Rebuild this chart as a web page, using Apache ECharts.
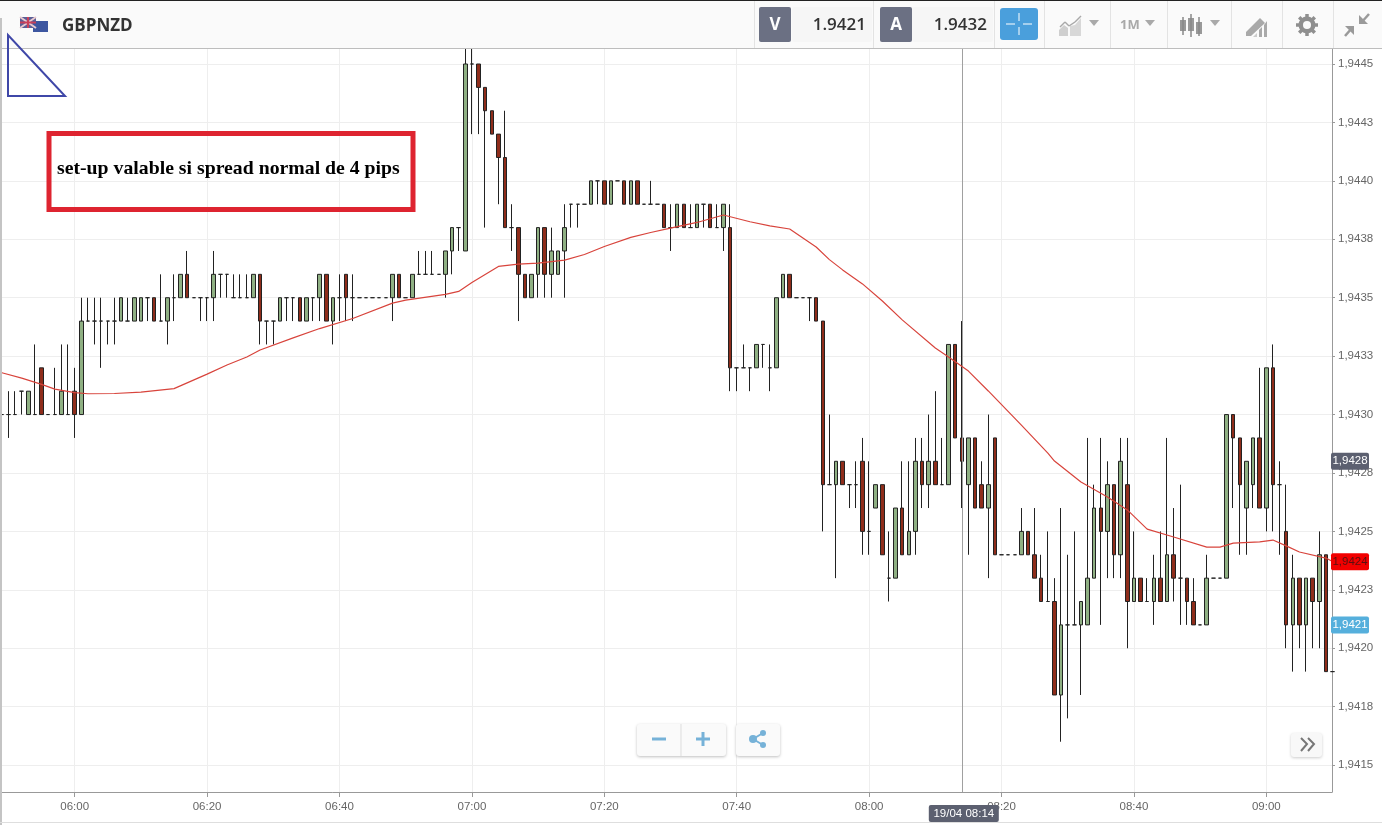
<!DOCTYPE html>
<html><head><meta charset="utf-8"><title>GBPNZD</title>
<style>html,body{margin:0;padding:0;background:#fff;overflow:hidden}#c{width:1382px;height:825px}</style>
<script src="https://cdn.jsdelivr.net/npm/echarts@6/dist/echarts.min.js"></script>
</head><body><div id="c"></div>
<script>
// Candles: one per minute, first at 05:49. Values are pips above 1.9400.
const firstMinute = 349;
const open = [
30,30,30,31,30,30,32,30,30,30, 30,31,30,34,34,34,34,34,34,34,
34,34,35,35,34,34,35,35,36,35, 35,35,35,36,36,35,35,35,35,36,
34,34,34,35,35,35,34,35,35,36, 34,35,36,35,35,35,35,35,35,35,
36,35,35,36,36,36,36,36,37,38, 37,45,45,44,43,42,41,38,38,36,
35,36,38,36,36,37,39,39,39,39, 40,40,39,40,40,39,40,39,39,39,
39,38,38,39,38,38,39,39,38,38, 38,32,32,32,32,33,32,32,35,36,
35,35,35,35,34,27,27,28,27,27, 28,25,26,27,23,23,26,24,25,28,
27,28,27,27,33,29,27,29,27,26, 29,24,24,24,24,25,24,23,22,22,
18,21,21,21,21,23,26,25,27,24, 27,22,23,22,22,23,22,24,23,23,
22,21,21,23,23,23,30,29,26,27, 29,26,32,27,25,21,23,21,23,22,
24,19];
const close = [
30,30,30,31,31,30,30,30,30,31, 30,30,34,34,34,34,34,34,35,34,
35,35,35,34,34,35,35,36,35,35, 35,35,36,36,36,35,35,35,36,34,
34,34,35,35,35,34,35,35,36,34, 35,35,35,35,35,35,35,35,35,36,
35,35,36,36,36,36,36,37,38,38, 45,45,44,43,42,41,38,38,36,35,
36,38,36,37,37,38,39,39,39,40, 40,39,40,40,39,40,39,39,39,39,
38,38,39,38,38,39,39,38,38,39, 32,32,32,32,33,33,32,35,36,35,
35,35,35,34,27,27,28,27,27,27, 25,25,27,24,23,26,24,25,28,27,
28,27,27,33,29,28,29,26,26,27, 24,24,24,24,25,24,23,22,22,18,
21,21,21,22,23,26,25,27,24,28, 22,23,22,22,23,22,24,23,23,22,
21,21,23,23,23,30,29,27,28,29, 26,32,27,27,21,23,21,23,22,24,
19,19];
const low = [
30,29,30,30,30,30,30,30,30,30, 30,29,30,34,33,32,33,33,34,34,
34,34,34,34,34,33,34,35,35,35, 34,34,34,35,35,35,35,35,35,33,
33,33,34,34,34,34,34,34,34,34, 33,34,34,34,35,35,35,35,35,34,
35,35,35,36,36,36,36,35,36,37, 37,42,42,38,42,39,38,37,34,35,
35,35,35,35,36,35,38,38,39,39, 39,39,39,40,39,39,39,39,39,39,
38,37,38,38,38,38,38,38,38,37, 31,31,32,31,32,32,31,32,35,35,
35,35,34,34,25,27,23,27,26,26, 24,24,26,24,22,23,24,24,24,26,
26,27,27,27,29,26,24,26,26,23, 24,24,24,24,24,24,23,22,22,18,
16,17,21,18,21,23,21,23,23,23, 20,22,22,22,21,22,22,22,21,21,
21,21,21,23,23,23,26,24,24,26, 26,25,25,24,20,19,20,19,20,20,
19,19];
const high = [
30,31,31,31,31,33,32,30,32,33, 33,32,35,35,35,35,34,35,35,35,
35,35,35,35,36,35,36,36,37,35, 35,35,37,36,36,36,36,36,36,36,
34,34,35,35,35,35,35,35,36,36, 35,36,36,36,35,35,35,35,35,36,
36,35,36,37,37,37,36,37,38,38, 46,46,45,44,43,42,43,39,38,36,
36,38,38,38,37,39,39,39,39,40, 40,40,40,40,40,40,40,39,40,39,
39,39,39,39,39,39,39,39,39,39, 39,32,33,32,33,33,33,35,36,36,
35,35,35,35,34,30,28,28,27,28, 29,28,27,27,25,26,28,28,29,29,
30,31,29,33,33,34,29,29,28,30, 29,24,24,24,26,25,26,24,25,23,
26,24,25,22,29,27,29,28,27,29, 29,25,23,23,24,25,29,26,27,23,
23,21,24,23,23,30,30,29,28,29, 32,32,33,28,27,24,23,23,23,25,
24,19];
// Moving average: minutes after 06:00, and pips above 1.9400.
const maMinutes = [-12,-11,-8,-5,-3,0,2,6,10,15,20,23,26,28,33,37,42,48,50,56,58,60,64,67,70,74,77,80,84,87,90,94,98,102,105,108,112,114,116,119,122,125,130,132,135,138,143,147,148,152,156,159,162,166,171,173,175,179,181,183,185,189,190];
const maPips = [31.86,31.79,31.56,31.29,31.09,30.94,30.89,30.90,30.96,31.11,31.73,32.12,32.46,32.76,33.28,33.68,34.11,34.77,34.90,35.14,35.27,35.65,36.34,36.44,36.48,36.61,36.85,37.19,37.58,37.79,37.98,38.22,38.54,38.25,38.07,37.94,37.17,36.63,36.19,35.59,34.86,34.05,32.85,32.46,31.86,31.01,29.55,28.35,28.01,27.11,26.47,25.92,25.10,24.76,24.33,24.33,24.50,24.55,24.63,24.38,24.12,23.86,23.71];
const xTickLabels = ["06:00","06:20","06:40","07:00","07:20","07:40","08:00","08:20","08:40","09:00"];
const yTickValues = [1.9445,1.94425,1.944,1.94375,1.9435,1.94325,1.943,1.94275,1.9425,1.94225,1.942,1.94175,1.9415];
const yTickLabels = ["1,9445","1,9443","1,9440","1,9438","1,9435","1,9433","1,9430","1,9428","1,9425","1,9423","1,9420","1,9418","1,9415"];
const crossMinute = 494, crossPrice = 1.94280, crossTime = "19/04 08:14", crossLabel = "1,9428";
const lastPrice = 1.94237, lastLabel = "1,9424", bidPrice = 1.94210, bidLabel = "1,9421";
const symbolName = "GBPNZD", bidQuote = "1.9421", askQuote = "1.9432", note = "set-up valable si spread normal de 4 pips";

const price = p => 1.94 + p / 10000;
const toMin = s => +s.slice(0,2) * 60 + +s.slice(3);
const candles = open.map((o,i) => [firstMinute + i, price(o), price(close[i]), price(low[i]), price(high[i])]);
const ma = maMinutes.map((m,i) => [360 + m, price(maPips[i])]);
const xMin = 348.716, xMax = 549.92, yMin = 1.9413849, yMax = 1.9445685;
const fmtX = v => { const h = Math.floor(v/60), m = Math.round(v-h*60); return String(h).padStart(2,'0')+':'+String(m).padStart(2,'0'); };
const fmtY = v => yTickLabels[Math.round((1.9445 - v)/0.00025)];

const flag = (x,y,w,h,fill) => ({type:'rect',shape:{x,y,width:w,height:h},style:{fill},silent:true,z:20});
const box = (x,y,w,h,fill,r,extra) => ({type:'rect',shape:{x,y,width:w,height:h,r:r||0},style:Object.assign({fill},extra||{}),silent:true,z:20});
const txt = (x,y,t,font,fill,align) => ({type:'text',x,y,style:{text:t,font,fill,textAlign:align||'left',textVerticalAlign:'middle'},silent:true,z:22});
const line = (x1,y1,x2,y2,stroke,w) => ({type:'line',shape:{x1,y1,x2,y2},style:{stroke,lineWidth:w||1},silent:true,z:21});
const tri = (x,y,fill) => ({type:'polygon',shape:{points:[[x,y],[x+10,y],[x+5,y+6]]},style:{fill},silent:true,z:21});
const poly = (pts,fill) => ({type:'polygon',shape:{points:pts},style:{fill},silent:true,z:21});
const G='#a9a9a9';

const chrome = [
  box(0,0,1382,48,'#fafafa'), box(0,0,1382,1,'#222'), box(0,48,1382,1,'#bdbdbd'),
  box(0,18,2,807,'#c4c4c4'), box(0,822,1382,1,'#dedede'),
  // flag
  flag(20,17,16,11,'#5a5f97'), line(20,17,36,28,'#e9c9cf',2), line(36,17,20,28,'#e9c9cf',2),
  line(28,17,28,28,'#c9405a',2), line(20,22.5,36,22.5,'#c9405a',2), flag(33,21,15,11,'#3d56a0'),
  txt(62,26,symbolName,'700 17px "Open Sans"','#333'),
  // separators
  ...[754,873,994,1044,1110,1167,1231,1282,1333].map(x=>line(x+.5,1,x+.5,48,'#e3e3e3')),
  box(792,7,80,35,'#f6f6f6',2), box(759,7,32,35,'#6b7083',2), txt(775,25,'V','700 17px "Open Sans"','#fff','center'), txt(866,25,bidQuote,'600 17px "Open Sans"','#333','right'),
  box(912,7,81,35,'#f6f6f6',2), box(880,7,32,35,'#6b7083',2), txt(896,25,'A','700 17px "Open Sans"','#fff','center'), txt(987,25,askQuote,'600 17px "Open Sans"','#333','right'),
  box(1000,8,38,32,'#4a9fdc',3), line(1019,13,1019,21,'#fff',1), line(1019,27,1019,35,'#fff',1), line(1006,24,1015,24,'#fff',1), line(1023,24,1032,24,'#fff',1),
  // chart-type icon
  poly([[1059,36],[1059,30],[1064,25],[1068,28],[1068,36]],'#cfcfcf'), poly([[1070,36],[1070,26],[1075,25],[1081,18],[1081,36]],'#d8d8d8'),
  line(1060,27,1065,22,G,1.5), line(1065,22,1069,26,G,1.5), line(1069,26,1075,22,G,1.5), line(1075,22,1081,16,G,1.5),
  tri(1089,20,G), txt(1120,25,'1M','700 13px "Open Sans"',G), tri(1145,20,G),
  // candle icon
  line(1183,17,1183,35,'#888',1.5), line(1191,14,1191,37,'#888',1.5), line(1199,17,1199,36,'#888',1.5),
  box(1180,20,6,11,'#999'), box(1188,18,6,13,'#999'), box(1196,22,6,12,'#999'), tri(1210,20,G),
  // draw icon
  poly([[1246,32],[1260,18],[1265,23],[1251,36],[1246,36]],G), poly([[1253,37],[1257,33],[1257,37]],'#ccc'), poly([[1259,37],[1259,30],[1262,27],[1262,37]],G), poly([[1264,37],[1264,25],[1267,21],[1267,37]],G),
  // gear
  {type:'ring',shape:{cx:1307,cy:25,r:8.5,r0:4},style:{fill:'#8f8f8f'},silent:true,z:21},
  ...[0,45,90,135].map(a=>{const c=Math.cos(a*Math.PI/180),s=Math.sin(a*Math.PI/180);return line(1307-c*11,25-s*11,1307+c*11,25+s*11,'#8f8f8f',3.5);}),
  {type:'circle',shape:{cx:1307,cy:25,r:4},style:{fill:'#fafafa'},silent:true,z:22},
  // compress arrows
  poly([[1359,15],[1359,24],[1368,24]],'#9a9a9a'), line(1361,23,1369,14,'#9a9a9a',2.5),
  poly([[1345,26],[1354,26],[1354,35]],'#9a9a9a'), line(1352,28,1345,36,'#9a9a9a',2.5),
  // drawn annotations
  {type:'polygon',shape:{points:[[8,35],[8,96],[65,96]]},style:{fill:'none',stroke:'#3f47a8',lineWidth:2},silent:true,z:20},
  {type:'rect',shape:{x:49,y:133.5,width:364,height:76},style:{fill:'none',stroke:'#de2430',lineWidth:5},silent:true,z:20},
  Object.assign(txt(57,169,note,'700 19px "Liberation Serif"','#000'),{scaleX:1.04}),
  // zoom and share
  box(637,724,89,32,'#fafafa',3,{shadowBlur:3,shadowColor:'rgba(0,0,0,.25)',shadowOffsetY:1}), line(681,724,681,756,'#dddddd'),
  box(652,737.5,14,3,'#76b2d8'), box(696,737.5,14,3,'#76b2d8'), box(701.5,732,3,14,'#76b2d8'),
  box(736,724,44,32,'#fafafa',3,{shadowBlur:3,shadowColor:'rgba(0,0,0,.25)',shadowOffsetY:1}),
  line(753,739,763,733,'#76b2d8',2), line(753,739,763,745,'#76b2d8',2),
  ...[[753,739,4],[763,733,3],[763,745,3]].map(c=>({type:'circle',shape:{cx:c[0],cy:c[1],r:c[2]},style:{fill:'#76b2d8'},silent:true,z:22})),
  box(1291,733,31,24,'#f8f8f8',3,{shadowBlur:3,shadowColor:'rgba(0,0,0,.2)',shadowOffsetY:1}),
  {type:'polyline',shape:{points:[[1301,738],[1307,744],[1301,751]]},style:{stroke:'#777',lineWidth:2,fill:'none'},silent:true,z:22},
  {type:'polyline',shape:{points:[[1308,738],[1314,744],[1308,751]]},style:{stroke:'#777',lineWidth:2,fill:'none'},silent:true,z:22}
];

const tagShape = w => `path://M2 0H${w-2}a2 2 0 0 1 2 2V15a2 2 0 0 1-2 2H2a2 2 0 0 1-2-2V2a2 2 0 0 1 2-2Z`;
const tag = (coord,text,bg,fg,w,off) => ({coord,symbol:tagShape(w),symbolSize:[w,17],symbolOffset:off,itemStyle:{color:bg},
  label:{show:true,position:'inside',formatter:text,color:fg,fontSize:11.5,fontFamily:'"Liberation Sans"'}});

const chart = echarts.init(document.getElementById('c'),null,{renderer:'canvas',width:1382,height:825});
chart.setOption({
  animation:false, backgroundColor:'#fff',
  grid:{left:0,right:50,top:48,bottom:33,containLabel:false},
  xAxis:{type:'value',min:xMin,max:xMax,scale:true,
    axisLine:{onZero:false,lineStyle:{color:'#999',width:1}},
    axisTick:{show:true,length:5,customValues:xTickLabels.map(toMin),lineStyle:{color:'#999'}},
    axisLabel:{customValues:xTickLabels.map(toMin),formatter:fmtX,color:'#666',fontSize:11.5,fontFamily:'"Liberation Sans"',margin:9},
    splitLine:{show:true,lineStyle:{color:'#eeeeee',width:1}}},
  yAxis:{type:'value',position:'right',min:yMin,max:yMax,scale:true,
    axisLine:{show:true,onZero:false,lineStyle:{color:'#999',width:1}},
    axisTick:{show:true,length:3,customValues:yTickValues,lineStyle:{color:'#999'}},
    axisLabel:{customValues:yTickValues,formatter:fmtY,color:'#666',fontSize:11.5,fontFamily:'"Liberation Sans"',margin:6,padding:[3,0,0,0]},
    splitLine:{show:true,lineStyle:{color:'#eeeeee',width:1}}},
  graphic:{elements:chrome},
  series:[
    {type:'candlestick',data:candles,barWidth:4,clip:true,silent:true,
      itemStyle:{color:'#8fb083',color0:'#8f2d1b',borderColor:'#222',borderColor0:'#222',borderColorDoji:'#222',borderWidth:1}},
    {type:'line',data:ma,showSymbol:false,symbol:'none',smooth:false,silent:true,clip:true,z:5,
      lineStyle:{color:'#d8443c',width:1.2},
      markLine:{silent:true,symbol:'none',animation:false,label:{show:false},lineStyle:{color:'#a0a0a0',type:'solid',width:1},
        data:[{xAxis:crossMinute},{yAxis:crossPrice}]},
      markPoint:{silent:true,animation:false,z:30,data:[
        tag([xMax,crossPrice],crossLabel,'#5c6070','#fff',38,[18,0]),
        tag([xMax,lastPrice],lastLabel,'#f20000','#5a1010',38,[18,0]),
        tag([xMax,bidPrice],bidLabel,'#55afdc','#fff',38,[18,0]),
        tag([crossMinute,yMin],crossTime,'#5c6070','#fff',70,[2,21.5])
      ]}}
  ]
});
</script></body></html>
